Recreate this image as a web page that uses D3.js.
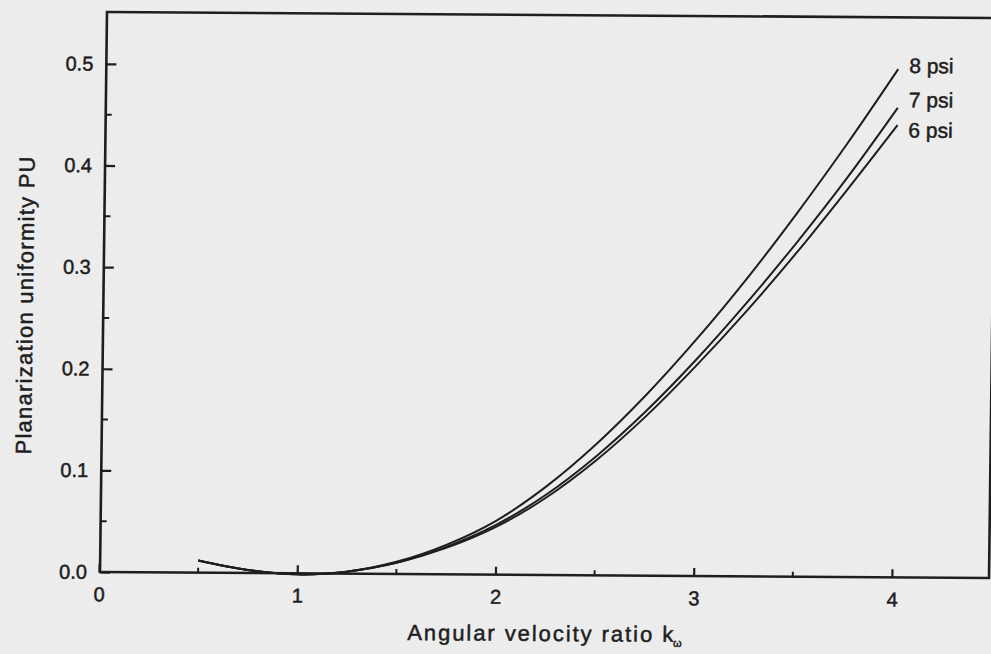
<!DOCTYPE html>
<html>
<head>
<meta charset="utf-8">
<script src="https://cdn.jsdelivr.net/npm/d3@7"></script>
<style>
  html, body { margin: 0; padding: 0; background: #efefef; }
  svg { display: block; }
  text { font-family: "Liberation Sans", Arial, Helvetica, sans-serif; fill: #1e1e1e; stroke: #1e1e1e; stroke-width: 0.5px; }
</style>
</head>
<body>
<svg id="chart" width="991" height="654"></svg>
<script>
// Angular velocity ratio k_w sampled every 0.25
const kValues = [0.5, 0.75, 1.0, 1.25, 1.5, 1.75, 2.0, 2.25, 2.5, 2.75, 3.0, 3.25, 3.5, 3.75, 4.0];

// Planarization uniformity PU for each down-force
const pu6psi = [0.012, 0.003, -0.001, 0.002, 0.011, 0.026, 0.047, 0.076, 0.113, 0.157, 0.207, 0.261, 0.319, 0.381, 0.445];
const pu7psi = [0.012, 0.003, -0.001, 0.002, 0.011, 0.027, 0.049, 0.079, 0.117, 0.162, 0.213, 0.269, 0.329, 0.393, 0.462];
const pu8psi = [0.012, 0.003, -0.001, 0.002, 0.012, 0.029, 0.053, 0.087, 0.129, 0.178, 0.233, 0.293, 0.358, 0.427, 0.500];

const seriesNames = ["8 psi", "7 psi", "6 psi"];
const seriesValues = [pu8psi, pu7psi, pu6psi];

const xTicks = [0, 1, 2, 3, 4];
const xMinorTicks = [0.5, 1.5, 2.5, 3.5];
const yTicks = [0.0, 0.1, 0.2, 0.3, 0.4, 0.5];
const yMinorTicks = [0.05, 0.15, 0.25, 0.35, 0.45];

const xTitle = "Angular velocity ratio k";
const xTitleSub = "ω";
const yTitle = "Planarization uniformity PU";

const svg = d3.select("#chart");

// soft paper grain
const defs = svg.append("defs");
const grain = defs.append("filter").attr("id", "grain").attr("x", 0).attr("y", 0).attr("width", "100%").attr("height", "100%");
grain.append("feTurbulence").attr("type", "fractalNoise").attr("baseFrequency", 0.9).attr("numOctaves", 2).attr("seed", 4).attr("result", "n");
grain.append("feColorMatrix").attr("in", "n").attr("type", "matrix")
  .attr("values", "0 0 0 0 0.5  0 0 0 0 0.5  0 0 0 0 0.5  0 0 0 0.10 0");
svg.append("rect").attr("width", 991).attr("height", 654).attr("fill", "#efefef");
svg.append("rect").attr("width", 991).attr("height", 654).attr("filter", "url(#grain)").attr("opacity", 0.9);

const plot = { left: 100, right: 989, top: 12, bottom: 572 };

// the whole figure sits slightly askew on the page
const g = svg.append("g")
  .attr("transform", "matrix(1,0.00675,-0.0125,1,7.15,-0.675)");

const x = d3.scaleLinear().domain([0, 4.49]).range([plot.left - 1, plot.right]);
const y = d3.scaleLinear().domain([0, 0.551]).range([plot.bottom, plot.top]);

const ink = "#1e1e1e";

// frame
g.append("rect")
  .attr("x", plot.left).attr("y", plot.top)
  .attr("width", plot.right - plot.left).attr("height", plot.bottom - plot.top)
  .attr("fill", "none").attr("stroke", ink).attr("stroke-width", 2.6);

// x axis: inward ticks
const xAxis = d3.axisBottom(x).tickValues(xTicks).tickSize(-8).tickPadding(15).tickFormat(d3.format("d"));
const gx = g.append("g").attr("transform", `translate(0,${plot.bottom})`).call(xAxis);
gx.select(".domain").remove();
gx.selectAll(".tick line").attr("stroke", ink).attr("stroke-width", 2.2);
gx.selectAll(".tick text").attr("font-size", 20).style("fill", ink);
g.append("g").attr("transform", `translate(0,${plot.bottom})`)
  .selectAll("line").data(xMinorTicks).join("line")
  .attr("x1", d => x(d)).attr("x2", d => x(d)).attr("y1", 0).attr("y2", -5)
  .attr("stroke", ink).attr("stroke-width", 2);

// y axis: inward ticks
const yAxis = d3.axisLeft(y).tickValues(yTicks).tickSize(-10).tickPadding(13).tickFormat(d3.format(".1f"));
const gy = g.append("g").attr("transform", `translate(${plot.left},0)`).call(yAxis);
gy.select(".domain").remove();
gy.selectAll(".tick line").attr("stroke", ink).attr("stroke-width", 2.2);
gy.selectAll(".tick text").attr("font-size", 20).style("fill", ink);
g.append("g").attr("transform", `translate(${plot.left},0)`)
  .selectAll("line").data(yMinorTicks).join("line")
  .attr("x1", 0).attr("x2", 6).attr("y1", d => y(d)).attr("y2", d => y(d))
  .attr("stroke", ink).attr("stroke-width", 2);

// curves
const line = d3.line().x((d, i) => x(kValues[i])).y(d => y(d)).curve(d3.curveCatmullRom.alpha(0.5));
g.append("g").selectAll("path").data(seriesValues).join("path")
  .attr("d", d => line(d))
  .attr("fill", "none").attr("stroke", ink).attr("stroke-width", 2);

// curve labels at the right ends
const labelOffsets = [-3.5, -8, 5];
g.append("g").selectAll("text").data(seriesNames).join("text")
  .attr("x", x(4) + 11)
  .attr("y", (d, i) => y(seriesValues[i][seriesValues[i].length - 1]) + labelOffsets[i])
  .attr("dy", "0.35em").attr("font-size", 21).text(d => d);

// axis titles
g.append("text")
  .attr("x", 408).attr("y", 638).attr("font-size", 22)
  .attr("textLength", 266).attr("lengthAdjust", "spacing")
  .text(xTitle);
g.append("text")
  .attr("x", 674).attr("y", 643).attr("font-size", 11)
  .text(xTitleSub);

g.append("text")
  .attr("transform", `translate(29.5,306) rotate(-90)`)
  .attr("text-anchor", "middle").attr("font-size", 22)
  .attr("textLength", 298).attr("lengthAdjust", "spacing")
  .text(yTitle);
</script>
</body>
</html>
